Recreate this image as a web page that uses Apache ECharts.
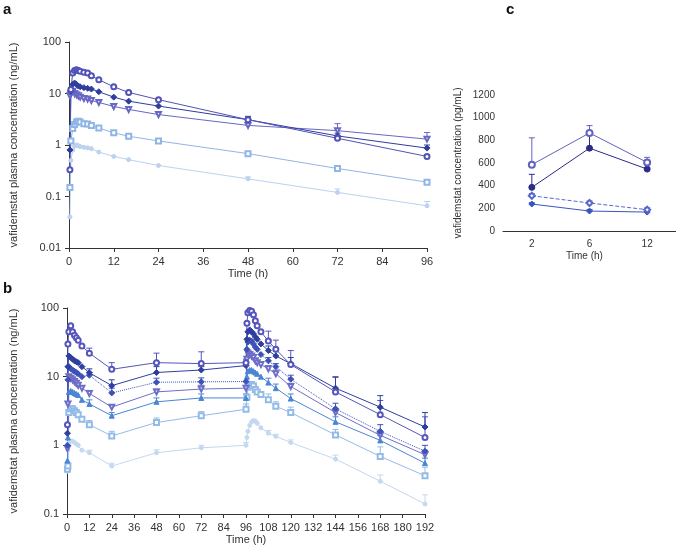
<!DOCTYPE html>
<html>
<head>
<meta charset="utf-8">
<script src="https://cdn.jsdelivr.net/npm/echarts@6/dist/echarts.min.js"></script>
<style>
  html, body { margin: 0; padding: 0; background: #fff; }
  #main { width: 676px; height: 546px; }
</style>
</head>
<body>
<div id="main"></div>
<script>
// panel a: single dose (h)
const tA = [0.25, 0.5, 1, 1.5, 2, 2.5, 3, 4, 5, 6, 8, 12, 16, 24, 48, 72, 96]
const a1 = [0.33, 12, 25, 28, 29, 28, 27, 26, 25, 22, 18.5, 13.5, 10.5, 7.6, 3.1, 1.35, 0.6]
const a2 = [0.8, 11, 15, 16, 15, 14, 13.5, 13, 12.6, 12.2, 10.8, 8.5, 7.1, 5.7, 3.1, 1.5, 0.87]
const a3 = [9, 10, 11, 10, 9.5, 9, 8.5, 8, 7.8, 7.3, 6.7, 5.6, 4.9, 3.9, 2.4, 1.9, 1.3]
const a4 = [0.15, 1.2, 2.1, 2.5, 2.8, 2.9, 2.8, 2.6, 2.55, 2.4, 2.15, 1.72, 1.48, 1.2, 0.68, 0.35, 0.19]
const a5 = [0.04, 0.5, 0.8, 0.95, 1.0, 0.97, 0.93, 0.9, 0.88, 0.85, 0.73, 0.6, 0.52, 0.4, 0.22, 0.12, 0.066]
const errTimesA = [48, 72, 96]
const errA1 = [3.5, 1.5, 0.65]
const errA2 = [3.6, 1.7, 1.0]
const errA3 = [2.6, 2.6, 1.75]
const errA4 = [0.75, 0.4, 0.21]
const errA5 = [0.24, 0.14, 0.08]

// panel b: repeated dose (h)
const tB = [0.25, 0.5, 1, 2, 3, 4, 5, 6, 8, 12, 24, 48, 72, 96, 96.5, 97, 98, 99, 100, 101, 102, 104, 108, 112, 120, 144, 168, 192]
const b1 = [2, 30, 45, 55, 45, 40, 37, 34, 28, 22, 12.8, 16, 15.5, 16, 60, 85, 92, 90, 80, 65, 55, 45, 33, 25, 15, 6.0, 2.8, 1.3]
const b2 = [1.5, 14, 20, 19, 18, 17, 16.5, 16, 14, 11.4, 7.4, 11.5, 12.5, 14.5, 35, 45, 48, 45, 42, 38, 35, 30, 24, 20, 15.5, 6.8, 3.6, 1.85]
const b3 = [1, 9, 14, 13, 12.5, 12, 11.5, 11, 10, 10.5, 5.8, 8.3, 8.4, 8.5, 25, 32, 34, 33, 30, 27, 25, 21, 17, 14, 9.2, 3.4, 1.6, 0.82]
const b4 = [0.9, 4, 10, 9.5, 9, 8.5, 8, 7.5, 6.8, 5.7, 3.6, 6.0, 6.6, 6.8, 18, 22, 21, 20, 19, 17, 16, 15, 13, 11, 7.2, 3.0, 1.4, 0.73]
const b5 = [0.6, 1.3, 6, 6.2, 6, 5.8, 5.6, 5.4, 4.6, 4.0, 2.7, 4.3, 4.9, 4.9, 10, 12, 12.5, 12.5, 12, 11.5, 11, 10, 8.2, 6.8, 4.8, 2.2, 1.18, 0.55]
const b6 = [0.45, 0.5, 3.0, 3.4, 3.4, 3.2, 3.0, 2.8, 2.4, 2.0, 1.37, 2.15, 2.7, 3.35, 5, 7, 7.5, 7.7, 7.3, 6.5, 6, 5.5, 4.6, 3.7, 3.0, 1.42, 0.69, 0.36]
const b7 = [0.42, 0.85, 1.1, 1.15, 1.15, 1.1, 1.05, 1.0, 0.85, 0.78, 0.5, 0.78, 0.92, 1.0, 1.3, 1.6, 1.95, 2.2, 2.3, 2.25, 2.1, 1.8, 1.5, 1.35, 1.1, 0.63, 0.3, 0.14]
const errTimesB = [12, 24, 48, 72, 96, 108, 112, 120, 144, 168, 192]
const errB1 = [26, 16, 22, 23, null, 46, 34, 24, 10, 4.5, 2.6]
const errB2 = [13, 9, 14, 14, 18, 28, 24, 19, 9.8, 5.3, 3.0]
const errB3 = [11.5, 6.8, 9.5, 9.6, null, 19, 15.5, 10.5, 4.1, 2.0, 1.0]
const errB4 = [6.3, 3.9, 6.6, 7.5, null, 14.5, 12.5, 8, 3.4, 1.6, 0.85]
const errB5 = [4.6, 3.0, 4.9, 5.6, 5.6, 9.5, 7.8, 5.6, 2.6, 1.4, 0.65]
const errB6 = [2.3, 1.6, 2.5, 3.1, 4.0, 5.6, 4.3, 3.6, 1.7, 0.95, 0.48]
const errB7 = [0.85, 0.55, 0.86, 1.0, 1.1, 1.65, 1.45, 1.2, 0.72, 0.37, 0.19]

// panel c (pg/mL)
const catsC = ['2', '6', '12']
const c1 = [585, 865, 605]
const c2 = [385, 731, 546]
const c3 = [311, 247, 188]
const c4 = [238, 176, 167]
const errC1 = [822, 930, 650]
const errC2 = [500, 850, 560]
const errC3 = [330, 265, 205]
const errC4 = [250, 190, 180]

const FONT = 'Liberation Sans'
const AXC = '#333'

function pairs(t, v) {
  return t.map((x, i) => [x, v[i]])
}
// [x, y, yUpper] for the error bars
function errData(t, v, et, ev) {
  let out = []
  et.forEach((x, i) => {
    if (ev[i] == null) return
    let k = t.indexOf(x)
    out.push([x, v[k], ev[i]])
  })
  return out
}
function errCat(v, ev) {
  return v.map((y, i) => [i, y, ev[i]])
}

function renderErr(color) {
  return function (params, api) {
    let p0 = api.coord([api.value(0), api.value(1)])
    let p1 = api.coord([api.value(0), api.value(2)])
    return {
      type: 'group',
      children: [
        { type: 'line', shape: { x1: p0[0], y1: p0[1], x2: p1[0], y2: p1[1] }, style: { stroke: color, lineWidth: 1 } },
        { type: 'line', shape: { x1: p1[0] - 3, y1: p1[1], x2: p1[0] + 3, y2: p1[1] }, style: { stroke: color, lineWidth: 1 } },
      ],
    }
  }
}

function errSeries(idx, data, color) {
  return {
    type: 'custom',
    xAxisIndex: idx,
    yAxisIndex: idx,
    data: data,
    encode: { x: 0, y: [1, 2] },
    renderItem: renderErr(color),
    silent: true,
    z: 1,
  }
}

function lineSeries(idx, data, color, symbol, opts) {
  let s = {
    type: 'line',
    xAxisIndex: idx,
    yAxisIndex: idx,
    data: data,
    symbol: symbol,
    symbolSize: 5,
    showAllSymbol: true,
    lineStyle: { color: color, width: 1 },
    itemStyle: { color: color, borderColor: color, borderWidth: 1 },
    z: 3,
  }
  return Object.assign(s, opts || {})
}

const axisCommon = {
  axisLine: { lineStyle: { color: AXC, width: 1 } },
  axisTick: { lineStyle: { color: AXC }, length: 4 },
  axisLabel: { color: AXC, fontSize: 11, fontFamily: FONT },
  splitLine: { show: false },
  nameTextStyle: { color: AXC, fontSize: 11, fontFamily: FONT },
}

// colours
const colA = ['#5252b8', '#2e3e9e', '#6868c4', '#8fb6e6', '#bcd2f0']
const colB = ['#5555bd', '#2f3fa0', '#3d52b8', '#6e6ec8', '#4a86d4', '#94bbe8', '#c4d8f2']
const colC = ['#6262c2', '#2b2b8a', '#5868c8', '#3a55c0']

const myChart = echarts.init(document.getElementById('main'))
myChart.setOption({
  animation: false,
  backgroundColor: '#fff',
  textStyle: { fontFamily: FONT },
  graphic: [
    { type: 'text', left: 3, top: 2, style: { text: 'a', font: 'bold 15px ' + FONT, fill: '#111' } },
    { type: 'text', left: 3, top: 281, style: { text: 'b', font: 'bold 15px ' + FONT, fill: '#111' } },
    { type: 'text', left: 506, top: 2, style: { text: 'c', font: 'bold 15px ' + FONT, fill: '#111' } },
  ],
  grid: [
    { left: 66, top: 42, width: 361, height: 206 },
    { left: 64, top: 308, width: 361, height: 206 },
    { left: 503, top: 95, width: 187, height: 136 },
  ],
  xAxis: [
    Object.assign({}, axisCommon, {
      gridIndex: 0, type: 'value', min: 0, max: 96, interval: 12,
      name: 'Time (h)', nameLocation: 'middle', nameGap: 20,
    }),
    Object.assign({}, axisCommon, {
      gridIndex: 1, type: 'value', min: 0, max: 192, interval: 12,
      name: 'Time (h)', nameLocation: 'middle', nameGap: 20,
    }),
    Object.assign({}, axisCommon, {
      gridIndex: 2, type: 'category', data: catsC, boundaryGap: true,
      axisTick: { lineStyle: { color: AXC }, length: 4, alignWithLabel: true },
      name: 'Time (h)', nameLocation: 'middle', nameGap: 20,
      nameTextStyle: { color: AXC, fontSize: 10, fontFamily: FONT, padding: [0, 10, 0, 0] },
      axisLabel: { color: AXC, fontSize: 10, fontFamily: FONT },
    }),
  ],
  yAxis: [
    Object.assign({}, axisCommon, {
      gridIndex: 0, type: 'log', logBase: 10, min: 0.01, max: 100,
      name: 'vafidemstat plasma concentration (ng/mL)', nameLocation: 'middle', nameGap: 50,
      axisLabel: { color: AXC, fontSize: 11, fontFamily: FONT, formatter: (v) => String(v) },
    }),
    Object.assign({}, axisCommon, {
      gridIndex: 1, type: 'log', logBase: 10, min: 0.1, max: 100,
      name: 'vafidemstat plasma concentration (ng/mL)', nameLocation: 'middle', nameGap: 48,
      axisLabel: { color: AXC, fontSize: 11, fontFamily: FONT, formatter: (v) => String(v) },
    }),
    Object.assign({}, axisCommon, {
      gridIndex: 2, type: 'value', min: 0, max: 1200, interval: 200,
      name: 'vafidemstat concentration (pg/mL)', nameLocation: 'middle', nameGap: 40,
      nameTextStyle: { color: AXC, fontSize: 10, fontFamily: FONT },
      axisLabel: { color: AXC, fontSize: 10, fontFamily: FONT, formatter: (v) => String(v) },
    }),
  ],
  series: [
    // panel a
    errSeries(0, errData(tA, a1, errTimesA, errA1), colA[0]),
    errSeries(0, errData(tA, a2, errTimesA, errA2), colA[1]),
    errSeries(0, errData(tA, a3, errTimesA, errA3), colA[2]),
    errSeries(0, errData(tA, a4, errTimesA, errA4), colA[3]),
    errSeries(0, errData(tA, a5, errTimesA, errA5), colA[4]),
    lineSeries(0, pairs(tA, a5), colA[4], 'circle', { symbolSize: 4 }),
    lineSeries(0, pairs(tA, a4), colA[3], 'emptyRect'),
    lineSeries(0, pairs(tA, a3), colA[2], 'emptyTriangle', { symbolRotate: 180 }),
    lineSeries(0, pairs(tA, a2), colA[1], 'diamond', { symbolSize: 6 }),
    lineSeries(0, pairs(tA, a1), colA[0], 'emptyCircle'),

    // panel b
    errSeries(1, errData(tB, b1, errTimesB, errB1), colB[0]),
    errSeries(1, errData(tB, b2, errTimesB, errB2), colB[1]),
    errSeries(1, errData(tB, b3, errTimesB, errB3), colB[2]),
    errSeries(1, errData(tB, b4, errTimesB, errB4), colB[3]),
    errSeries(1, errData(tB, b5, errTimesB, errB5), colB[4]),
    errSeries(1, errData(tB, b6, errTimesB, errB6), colB[5]),
    errSeries(1, errData(tB, b7, errTimesB, errB7), colB[6]),
    lineSeries(1, pairs(tB, b7), colB[6], 'circle', { symbolSize: 4 }),
    lineSeries(1, pairs(tB, b6), colB[5], 'emptyRect'),
    lineSeries(1, pairs(tB, b5), colB[4], 'triangle'),
    lineSeries(1, pairs(tB, b4), colB[3], 'emptyTriangle', { symbolRotate: 180 }),
    lineSeries(1, pairs(tB, b3), colB[2], 'diamond', {
      symbolSize: 6,
      lineStyle: { color: colB[2], width: 1, type: 'dotted' },
    }),
    lineSeries(1, pairs(tB, b2), colB[1], 'diamond', { symbolSize: 6 }),
    lineSeries(1, pairs(tB, b1), colB[0], 'emptyCircle'),

    // panel c
    errSeries(2, errCat(c1, errC1), colC[0]),
    errSeries(2, errCat(c2, errC2), colC[1]),
    errSeries(2, errCat(c3, errC3), colC[2]),
    errSeries(2, errCat(c4, errC4), colC[3]),
    lineSeries(2, c4, colC[3], 'diamond', { symbolSize: 6 }),
    lineSeries(2, c3, colC[2], 'emptyDiamond', {
      symbolSize: 6,
      lineStyle: { color: colC[2], width: 1, type: 'dashed' },
    }),
    lineSeries(2, c2, colC[1], 'circle', { symbolSize: 6 }),
    lineSeries(2, c1, colC[0], 'emptyCircle', { symbolSize: 6 }),
  ],
})
</script>
</body>
</html>
